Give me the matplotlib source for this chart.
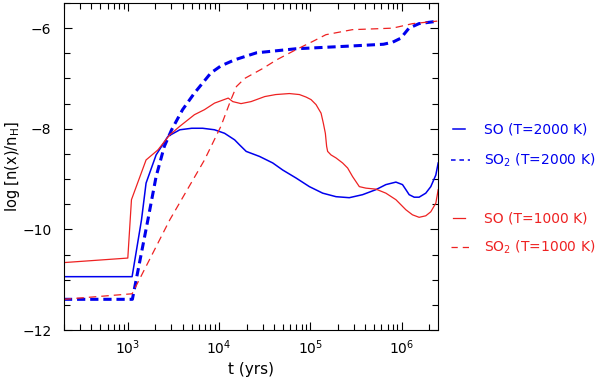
import matplotlib
matplotlib.use("Agg")
import matplotlib.pyplot as plt
from matplotlib.lines import Line2D
from matplotlib.ticker import MultipleLocator, LogLocator, NullFormatter
import numpy as np

# values: log10(t / yr) and log[n(x)/nH]

# SO, T=2000 K (blue solid)
so_2000_logt = [2.30, 3.047, 3.15, 3.20, 3.31, 3.44, 3.57, 3.70, 3.82, 3.95, 4.06, 4.17,
                4.224, 4.297, 4.443, 4.588, 4.697, 4.844, 4.989, 5.135, 5.281, 5.426, 5.572,
                5.718, 5.827, 5.937, 6.009, 6.046, 6.082, 6.137, 6.191, 6.264, 6.319, 6.374,
                6.40]
so_2000 = [-10.94, -10.94, -9.81, -9.08, -8.52, -8.15, -8.02, -7.99, -7.99, -8.02, -8.09, -8.22,
           -8.32, -8.45, -8.55, -8.68, -8.82, -8.98, -9.15, -9.28, -9.35, -9.37, -9.31,
           -9.21, -9.11, -9.06, -9.11, -9.21, -9.31, -9.36, -9.36, -9.28, -9.15, -8.92,
           -8.68]

# SO2, T=2000 K (blue dashed)
so2_2000_logt = [2.30, 3.05, 3.22, 3.31, 3.40, 3.48, 3.60, 3.73, 3.91, 4.02, 4.17, 4.41,
                 4.84, 5.39, 5.80, 5.90, 5.99, 6.08, 6.19, 6.40]
so2_2000 = [-11.39, -11.39, -9.81, -8.95, -8.35, -8.02, -7.62, -7.29, -6.89, -6.75, -6.63, -6.49,
            -6.41, -6.36, -6.32, -6.28, -6.20, -6.00, -5.91, -5.86]

# SO, T=1000 K (red solid)
so_1000_logt = [2.30, 3.00, 3.04, 3.20, 3.33, 3.46, 3.57, 3.73, 3.84, 3.95, 4.10, 4.15,
                4.24, 4.35, 4.50, 4.62, 4.77, 4.88, 4.953, 5.007, 5.062, 5.117, 5.142,
                5.164, 5.178, 5.189, 5.226, 5.281, 5.353, 5.408, 5.462, 5.536, 5.608,
                5.718, 5.827, 5.937, 6.046, 6.118, 6.191, 6.264, 6.319, 6.374, 6.40]
so_1000 = [-10.66, -10.57, -9.41, -8.62, -8.42, -8.12, -7.95, -7.72, -7.62, -7.49, -7.39, -7.46,
           -7.50, -7.46, -7.36, -7.32, -7.30, -7.32, -7.37, -7.42, -7.52, -7.69, -7.89,
           -8.09, -8.35, -8.45, -8.52, -8.58, -8.68, -8.78, -8.95, -9.15, -9.18,
           -9.20, -9.28, -9.41, -9.61, -9.71, -9.76, -9.73, -9.65, -9.48, -9.21]

# SO2, T=1000 K (red dashed)
so2_1000_logt = [2.30, 3.047, 3.46, 3.84, 4.02, 4.13, 4.19, 4.28, 4.39, 4.48, 4.63, 4.84,
                 5.03, 5.17, 5.46, 5.90, 6.12, 6.39]
so2_1000 = [-11.39, -11.28, -9.81, -8.62, -7.95, -7.42, -7.16, -7.00, -6.89, -6.80, -6.63, -6.43,
            -6.26, -6.13, -6.03, -6.00, -5.91, -5.86]

blue = "#0000ee"
red = "#ee2222"

fig = plt.figure(figsize=(6, 3.8), dpi=100)
ax = fig.add_axes([64 / 600, 50 / 380, 374 / 600, 327 / 380])

ax.plot(10 ** np.array(so_2000_logt), so_2000, color=blue, lw=1.1)
ax.plot(10 ** np.array(so2_2000_logt), so2_2000, color=blue, lw=2.2, ls=(0, (2.7, 1.6)))
ax.plot(10 ** np.array(so_1000_logt), so_1000, color=red, lw=0.9)
ax.plot(10 ** np.array(so2_1000_logt), so2_1000, color=red, lw=0.9, ls=(0, (6, 4)))

ax.set_xscale("log")
ax.set_xlim(200, 2.5e6)
ax.set_ylim(-12, -5.5)
ax.yaxis.set_major_locator(MultipleLocator(2))
ax.yaxis.set_minor_locator(MultipleLocator(0.5))
ax.xaxis.set_major_locator(LogLocator(base=10, numticks=20))
ax.xaxis.set_minor_locator(LogLocator(base=10, subs=np.arange(2, 10), numticks=20))
ax.xaxis.set_minor_formatter(NullFormatter())
ax.tick_params(which="both", direction="in", top=True, right=True, labelsize=10)
ax.tick_params(which="major", length=6, width=0.8)
ax.tick_params(which="minor", length=4, width=0.8)
ax.tick_params(axis="y", pad=9)
ax.tick_params(axis="x", pad=6)

ax.set_xlabel("t (yrs)", fontsize=11, labelpad=4)
ax.set_ylabel("log [n(x)/n$_{\\rm H}$]", fontsize=10.5)
ax.yaxis.set_label_coords(-0.112, 0.5)

# legend drawn at the right of the axes
entries = [
    ("SO (T=2000 K)", blue, "-", 1.1, 129),
    ("SO$_2$ (T=2000 K)", blue, (0, (3, 2.5)), 1.1, 160),
    ("SO (T=1000 K)", red, "-", 0.9, 218),
    ("SO$_2$ (T=1000 K)", red, (0, (5, 4)), 0.9, 247),
]
for label, col, ls, lw, ypx in entries:
    yf = 1 - ypx / 380
    x0 = 453 / 600 if ls == "-" else 451 / 600
    x1 = 465 / 600 if ls == "-" else 470 / 600
    fig.add_artist(Line2D([x0, x1], [yf, yf], color=col, lw=lw, ls=ls))
    fig.text(484 / 600, yf, label, color=col, fontsize=10, va="center", ha="left")

fig.savefig("out.png", dpi=100)
